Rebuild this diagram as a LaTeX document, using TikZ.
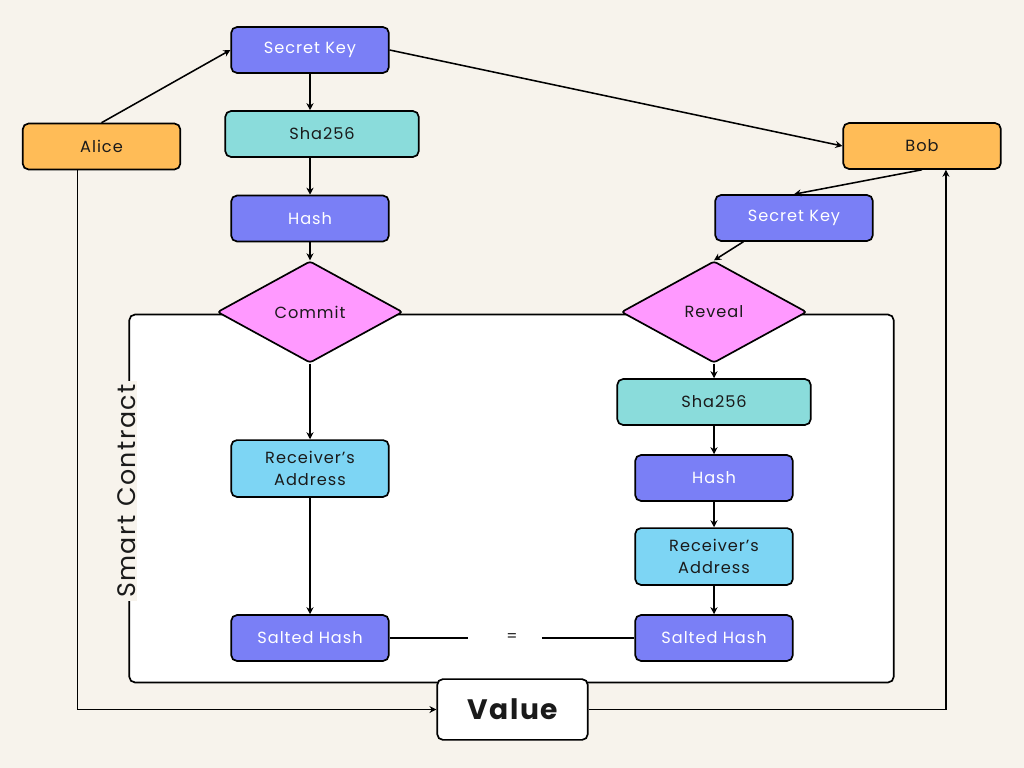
\documentclass[tikz,border=0pt]{standalone}
\usepackage{fontspec}
\setmainfont{Poppins}[LetterSpace=6]
\usetikzlibrary{shapes.geometric,arrows.meta}

\definecolor{bgcream}{HTML}{F7F3EC}
\definecolor{keypurple}{HTML}{7A7FF6}
\definecolor{shateal}{HTML}{8ADCDB}
\definecolor{addrblue}{HTML}{7DD5F4}
\definecolor{personorange}{HTML}{FFBC57}
\definecolor{stagepink}{HTML}{FF99FF}
\definecolor{inkdark}{HTML}{1A1A1A}

\begin{document}
\begin{tikzpicture}[x=0.025cm, y=-0.025cm,
  box/.style={draw=black, line width=1.2pt, rounded corners=4pt, minimum width=112pt,
    minimum height=32.6pt, inner sep=0pt, align=center, text=inkdark,
    font=\fontsize{11.5}{15.6}\selectfont},
  keybox/.style={box, fill=keypurple, text=white},
  shabox/.style={box, fill=shateal, minimum width=137.5pt},
  addrbox/.style={box, fill=addrblue, minimum height=40.4pt},
  person/.style={box, fill=personorange},
  stage/.style={diamond, draw=black, line width=1.2pt, rounded corners=2pt, fill=stagepink,
    minimum width=131.8pt, minimum height=72.3pt, aspect=1.82, inner sep=0pt,
    text=inkdark, font=\fontsize{11.5}{14}\selectfont},
  flow/.style={-{Stealth[length=5pt,width=5pt]}, line width=1.1pt}]

% Background
\fill[bgcream] (0,0) rectangle (1024,768);
\useasboundingbox (0,0) rectangle (1024,768);

% Smart contract frame
\node[draw=black, line width=1.2pt, rounded corners=4pt, fill=white, minimum width=543.6pt,
  minimum height=261.6pt, inner sep=0pt] (contract) at (511.5,498.5) {};
\node[rotate=90, fill=bgcream, inner xsep=2pt, inner ysep=1pt, text=inkdark,
  font=\fontsize{18}{20}\selectfont] (contractlabel) at (127,491) {Smart Contract};

% Alice side
\node[person] (alice) at (101.5,146.5) {Alice};
\node[keybox] (keyA) at (310,50) {Secret Key};
\node[shabox] (shaA) at (322,134) {Sha256};
\node[keybox] (hashA) at (310,218.5) {Hash};
\node[stage] (commit) at (310,312) {Commit};
\node[addrbox] (addrA) at (310,468.5) {Receiver’s\\Address};
\node[keybox] (saltA) at (310,638) {Salted Hash};

% Bob side
\node[person] (bob) at (922,146) {Bob};
\node[keybox] (keyB) at (794,218) {Secret Key};
\node[stage] (reveal) at (714,312) {Reveal};
\node[shabox] (shaB) at (714,402) {Sha256};
\node[keybox] (hashB) at (714,478) {Hash};
\node[addrbox] (addrB) at (714,556.5) {Receiver’s\\Address};
\node[keybox] (saltB) at (714,638) {Salted Hash};

% Comparison and value
\node[minimum width=52pt, inner sep=0pt, text=inkdark, font=\fontsize{11}{14}\selectfont] (equal) at (505,638) {\hspace{10pt}=};
\node[box, fill=white, minimum width=107pt, minimum height=43.2pt, font=\fontsize{20}{24}\bfseries\selectfont] (value) at (512.5,709.5) {Value};

% Arrows
\draw[flow] (alice.north) -- (keyA.west);
\draw[flow] (keyA.east) -- (bob.west);
\draw[flow] (keyA.south) -- (keyA.south |- shaA.north);
\draw[flow] (shaA.south -| hashA) -- (hashA.north);
\draw[flow] (hashA.south) -- (commit.north);
\draw[flow] (commit.south) -- (addrA.north);
\draw[flow] (addrA.south) -- (saltA.north);
\draw[flow] (bob.south) -- (keyB.north);
\draw[flow] ([xshift=-36pt]keyB.south) -- (reveal.north);
\draw[flow] (reveal.south) -- (shaB.north);
\draw[flow] (shaB.south) -- (hashB.north);
\draw[flow] (hashB.south) -- (addrB.north);
\draw[flow] (addrB.south) -- (saltB.north);
\draw[line width=1.1pt] (saltA.east) -- (equal.west);
\draw[line width=1.1pt] (equal.east) -- (saltB.west);
\draw[flow] ([xshift=-17pt]alice.south) |- (value.west);
\draw[flow] (value.east) -| ([xshift=17pt]bob.south);
\end{tikzpicture}
\end{document}
